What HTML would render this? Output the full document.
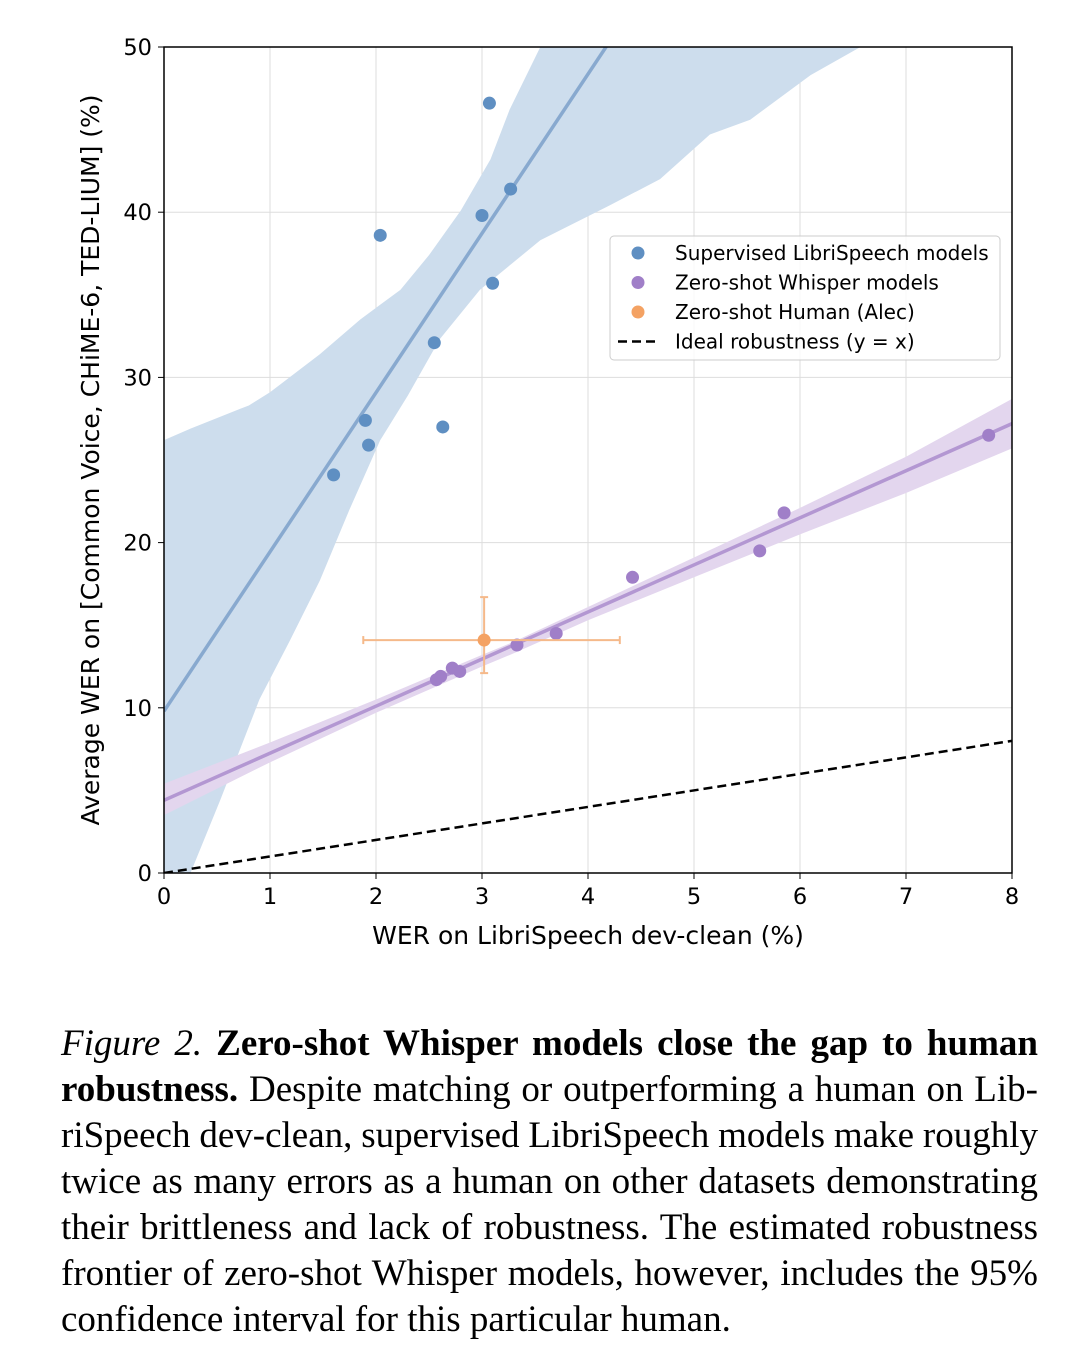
<!DOCTYPE html>
<html><head><meta charset="utf-8"><style>
body{margin:0;background:#fff;width:1078px;height:1356px;overflow:hidden;position:relative;font-family:"DejaVu Sans",sans-serif}
#cap{position:absolute;left:61px;top:1021px;width:977px;font-family:"Liberation Serif",serif;font-size:37px;color:#000}
#cap div{height:46px;line-height:46px;text-align:justify;text-align-last:justify;white-space:nowrap;word-spacing:-4px}
#cap div.last{text-align-last:left;word-spacing:0}
</style></head><body>
<svg id="chart" width="1078" height="1000" style="position:absolute;left:0;top:0;font-family:'DejaVu Sans',sans-serif" xmlns="http://www.w3.org/2000/svg"></svg>
<div id="cap">
<div><i>Figure 2.</i> <b>Zero-shot Whisper models close the gap to human</b></div>
<div><b>robustness.</b> Despite matching or outperforming a human on Lib-</div>
<div>riSpeech dev-clean, supervised LibriSpeech models make roughly</div>
<div>twice as many errors as a human on other datasets demonstrating</div>
<div>their brittleness and lack of robustness. The estimated robustness</div>
<div>frontier of zero-shot Whisper models, however, includes the 95%</div>
<div class="last">confidence interval for this particular human.</div>
</div>
<script>
const xTicks=[0,1,2,3,4,5,6,7,8];
const yTicks=[0,10,20,30,40,50];
const supX=[1.6,1.9,1.93,2.04,2.55,2.63,3.0,3.07,3.1,3.27];
const supY=[24.1,27.4,25.9,38.6,32.1,27.0,39.8,46.6,35.7,41.4];
const whX=[2.57,2.61,2.72,2.79,3.33,3.7,4.42,5.62,5.85,7.78];
const whY=[11.7,11.9,12.4,12.2,13.8,14.5,17.9,19.5,21.8,26.5];
const human=[3.02,14.1];
const humanXErr=[1.88,4.3];
const humanYErr=[12.1,16.7];
const supFit=[9.8,9.64];
const whFit=[4.4,2.85];
const supBandUpX=[0,0.25,0.72,0.8,1.0,1.47,1.85,2.23,2.5,2.8,3.08,3.26,3.55];
const supBandUpY=[26.2,26.9,28.1,28.3,29.1,31.4,33.5,35.3,37.4,40.1,43.2,46.2,50];
const supBandLoX=[0.25,0.53,0.9,1.19,1.47,1.75,2.04,2.3,2.6,2.98,3.55,4.2,4.68,5.15,5.53,6.1,6.57,8];
const supBandLoY=[0,4.4,10.5,14.1,17.7,22,26.2,28.9,32.3,35.3,38.3,40.4,42,44.7,45.6,48.3,50,50];
const whBandX=[0,1,2,3,3.3,4,5,6,7,8];
const whBandLo=[3.5,6.7,9.7,12.5,13.3,15.3,17.9,20.5,23.0,25.7];
const whBandHi=[5.4,7.9,10.5,13.2,14.0,16.1,19.1,22.1,25.2,28.7];
const X0=164,X1=1012,Y0=873,Y1=47;
const sx=v=>X0+(X1-X0)*v/8, sy=v=>Y0-(Y0-Y1)*v/50;
const svg=document.getElementById('chart');const NS='http://www.w3.org/2000/svg';
function mk(t,a,p){const e=document.createElementNS(NS,t);for(const k in a)e.setAttribute(k,a[k]);(p||svg).appendChild(e);return e;}
const defs=mk('defs',{});const cp=mk('clipPath',{id:'c'},defs);mk('rect',{x:X0,y:Y1,width:X1-X0,height:Y0-Y1},cp);
xTicks.forEach(t=>{const l=mk('line',{x1:sx(t),x2:sx(t),y1:Y1,y2:Y0,stroke:'#ddd','stroke-width':1});

mk('line',{x1:sx(t),x2:sx(t),y1:Y0,y2:Y0+6,stroke:'#000'});
const tx=mk('text',{x:sx(t),y:Y0+31,'text-anchor':'middle','font-size':22.5});tx.textContent=t;
});
yTicks.forEach(t=>{const l=mk('line',{x1:X0,x2:X1,y1:sy(t),y2:sy(t),stroke:'#ddd','stroke-width':1});

mk('line',{x1:X0-6,x2:X0,y1:sy(t),y2:sy(t),stroke:'#000'});
const tx=mk('text',{x:X0-12,y:sy(t)+8,'text-anchor':'end','font-size':22.5});tx.textContent=t;
});
const g=mk('g',{'clip-path':'url(#c)'});
let d='M'+sx(0)+','+sy(0)+' ';supBandUpX.forEach((x,i)=>d+='L'+sx(x)+','+sy(supBandUpY[i])+' ');
d+='L'+sx(8)+','+sy(60)+' ';for(let i=supBandLoX.length-1;i>=0;i--)d+='L'+sx(supBandLoX[i])+','+sy(supBandLoY[i])+' ';d+='Z';
const b1=mk('path',{d:d,fill:'#cddded'},g);
d='M';whBandX.forEach((x,i)=>d+=(i?'L':'')+sx(x)+','+sy(whBandHi[i])+' ');
for(let i=whBandX.length-1;i>=0;i--)d+='L'+sx(whBandX[i])+','+sy(whBandLo[i])+' ';d+='Z';
const b2=mk('path',{d:d,fill:'#e3d6ee'},g);
const l1=mk('line',{x1:sx(0),y1:sy(supFit[0]),x2:sx(8),y2:sy(supFit[0]+supFit[1]*8),stroke:'#88a9cf','stroke-width':3.5},g);

const l2=mk('line',{x1:sx(0),y1:sy(whFit[0]),x2:sx(8),y2:sy(whFit[0]+whFit[1]*8),stroke:'#b397d2','stroke-width':3.5},g);

const l3=mk('line',{x1:sx(0),y1:sy(0),x2:sx(8),y2:sy(8),stroke:'#000','stroke-width':2.5,'stroke-dasharray':'9,5'},g);

supX.forEach((x,i)=>{const c=mk('circle',{cx:sx(x),cy:sy(supY[i]),r:6.5,fill:'#5f8fc2'});
});
whX.forEach((x,i)=>{const c=mk('circle',{cx:sx(x),cy:sy(whY[i]),r:6.5,fill:'#a07fc8'});
});
const eg=mk('g',{stroke:'#f5b98a','stroke-width':2});
mk('line',{x1:sx(humanXErr[0]),x2:sx(humanXErr[1]),y1:sy(human[1]),y2:sy(human[1])},eg);
mk('line',{x1:sx(human[0]),x2:sx(human[0]),y1:sy(humanYErr[0]),y2:sy(humanYErr[1])},eg);
humanXErr.forEach(v=>mk('line',{x1:sx(v),x2:sx(v),y1:sy(human[1])-4,y2:sy(human[1])+4},eg));
humanYErr.forEach(v=>mk('line',{x1:sx(human[0])-4,x2:sx(human[0])+4,y1:sy(v),y2:sy(v)},eg));
const hc=mk('circle',{cx:sx(human[0]),cy:sy(human[1]),r:6.5,fill:'#f4a263'});

mk('rect',{x:X0,y:Y1,width:X1-X0,height:Y0-Y1,fill:'none',stroke:'#000','stroke-width':1.5});
const yl=mk('text',{x:0,y:0,transform:'translate(99,460) rotate(-90)','text-anchor':'middle','font-size':25});
yl.textContent='Average WER on [Common Voice, CHiME-6, TED-LIUM] (%)';
const xl=mk('text',{x:588,y:944,'text-anchor':'middle','font-size':25});
xl.textContent='WER on LibriSpeech dev-clean (%)';
const lg=mk('g',{});
mk('rect',{x:610,y:236,width:390,height:124,rx:4,fill:'#fff','fill-opacity':0.85,stroke:'#ccc'},lg);
const labels=['Supervised LibriSpeech models','Zero-shot Whisper models','Zero-shot Human (Alec)','Ideal robustness (y = x)'];
const cols=['#5f8fc2','#a07fc8','#f4a263',null];
labels.forEach((t,i)=>{const y=253+i*29.5;
if(cols[i])mk('circle',{cx:638,cy:y,r:6.5,fill:cols[i]},lg);else mk('line',{x1:618,x2:658,y1:y,y2:y,stroke:'#000','stroke-width':2.5,'stroke-dasharray':'9,5'},lg);
const tx=mk('text',{x:675,y:y+7,'font-size':20},lg);tx.textContent=t;
});
</script>
</body></html>
